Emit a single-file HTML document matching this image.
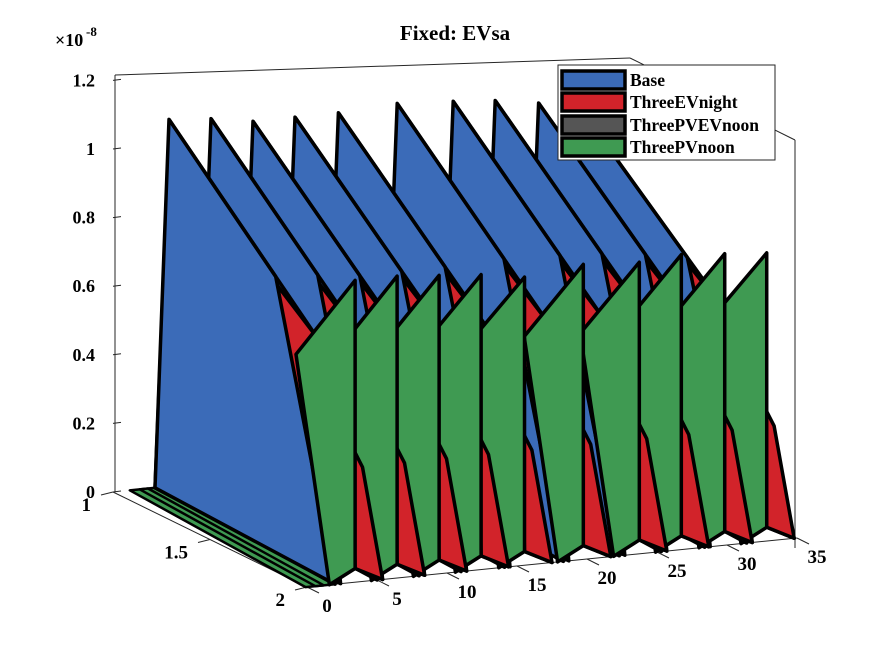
<!DOCTYPE html>
<html><head><meta charset="utf-8"><style>
html,body{margin:0;padding:0;background:#fff;}
svg{display:block;font-family:"Liberation Serif",serif;font-weight:bold;}
</style></head><body>
<svg id="c" width="875" height="656" viewBox="0 0 875 656"></svg>
<script>
const periodX=[4,7,10,13,16.1,20.3,24.3,27.3,30.4,33.4];
const baseVals=[1.07,1.06,1.04,1.04,1.04,1.05,1.04,1.03,1.01,0.98];
const nightVals=[1.0,0.99,0.98,0.98,0.98,0.99,0.98,0.97,0.95,0.92];
const pvVals=[0.84,0.84,0.83,0.82,0.80,0.82,0.81,0.82,0.81,0.80];
const zTicks=[0,0.2,0.4,0.6,0.8,1,1.2];
const zTickLabels=["0","0.2","0.4","0.6","0.8","1","1.2"];
const xTicks=[0,5,10,15,20,25,30,35];
const yTicks=[1,1.5,2];
const legendNames=["Base","ThreeEVnight","ThreePVEVnoon","ThreePVnoon"];
const legendColors=["#3b6bb8","#d2232a","#555555","#3f9a52"];
const NS="http://www.w3.org/2000/svg";
const svg=document.getElementById('c');
function P(x,y,z){const u=y-1;return [113+14*x+194*u, 492-1.4*x+95*u-343*z];}
function mk(t,a,parent){const e=document.createElementNS(NS,t);for(const k in a)e.setAttribute(k,a[k]);(parent||svg).appendChild(e);return e;}
function poly(pts,fill,name,sw){const e=mk('polygon',{points:pts.map(p=>P(...p).join(',')).join(' '),fill:fill,stroke:'#000','stroke-width':sw||3.5,'stroke-linejoin':'round'});

return e;}
function line(x1,y1,x2,y2,name,w){const e=mk('line',{x1,y1,x2,y2,stroke:'#262626','stroke-width':w||1});

return e;}
function text(x,y,s,size,anchor,name){const e=mk('text',{x,y,'font-size':size,'text-anchor':anchor||'middle',fill:'#000'});e.textContent=s;

return e;}
// box lines
line(115,75,630,58,'box-top-back');line(630,58,795,140,'box-top-right');line(795,140,795,548,'box-right');
line(115,75,115,492,'z-axis');
const a0=P(0,1,0),a1=P(0,2,0),a2=P(35,2,0);
line(a0[0],a0[1],a1[0],a1[1],'y-axis');line(a1[0],a1[1],a2[0],a2[1],'x-axis');
zTicks.forEach((z,i)=>{const p=P(0,1,z);line(p[0],p[1],p[0]+8,p[1]-1,'z-tick');text(p[0]-18,p[1]+6,zTickLabels[i],18,'end','z-tick-label');});
text(55,46,'\u00d710',18,'start','z-exponent');text(86,36,'-8',13,'start','z-exponent-power');
yTicks.forEach(y=>{const p=P(0,y,0);line(p[0],p[1],p[0]-12,p[1]+3,'y-tick');text(p[0]-22,p[1]+19,String(y),19,'end','y-tick-label');});
xTicks.forEach(x=>{const p=P(x,2,0);line(p[0],p[1],p[0]+12,p[1]+6,'x-tick');text(p[0]+20,p[1]+25,String(x),19,'middle','x-tick-label');});
// left strip
poly([[1.2,1,0],[3.2,1,0],[1.9,2,0],[-0.1,2,0]],'#3f9a52','strip-base',2.5);
poly([[1.9,1,0],[2.5,1,0],[1.2,2,0],[0.6,2,0]],'#3f9a52','strip-mid',2.5);
// blue/red faces, back to front order reversed
for(let k=periodX.length-1;k>=0;k--){const xb=periodX[k];const bp=baseVals[k];
const zr=bp-(0.4*bp)*(0.55/0.77);
poly([[xb-1,1,0],[xb,1,nightVals[k]],[xb,1.77,bp*0.6],[xb-1.6,2,0]],legendColors[1],'night-face');
poly([[xb-1,1,0],[xb,1,bp],[xb,1.55,zr],[xb-2,2,0]],legendColors[0],'base-face');
const r=mk('polyline',{points:[P(xb,1,bp),P(xb,1.77,bp*0.6)].map(p=>p.join(',')).join(' '),fill:'none',stroke:'#000','stroke-width':3.5});

}
for(let k=periodX.length-1;k>=0;k--){const xb=periodX[k];
poly([[xb+1.1,1.88,0],[xb+1.25,1.93,0.13],[xb+1.4,2,0]],legendColors[0],'base-small');
poly([[xb+1.1,1.88,0],[xb+1.15,1.86,0.35],[xb+1.35,1.9,0.3],[xb+1.4,2,0]],legendColors[1],'night-small');
poly([[xb-1.6,1.77,pvVals[k]*0.72],[xb+1.1,1.88,pvVals[k]],[xb+1.1,1.88,0],[xb-2.4,2,0]],legendColors[3],'pv-face');}
// title
text(455,40,'Fixed: EVsa',21,'middle','chart-title');
// legend
const lg=mk('g',{});
const lb=mk('rect',{x:558,y:65,width:217,height:95,fill:'#fff',stroke:'#262626','stroke-width':1},lg);

const rowsY=[80,102,125,147];
legendNames.forEach((n,i)=>{const r=mk('rect',{x:562,y:rowsY[i]-9,width:63,height:18,fill:legendColors[i],stroke:'#000','stroke-width':3.5},lg);

const t=mk('text',{x:630,y:rowsY[i]+6,'font-size':17.5,fill:'#000'},lg);t.textContent=n;
});
</script>
</body></html>
